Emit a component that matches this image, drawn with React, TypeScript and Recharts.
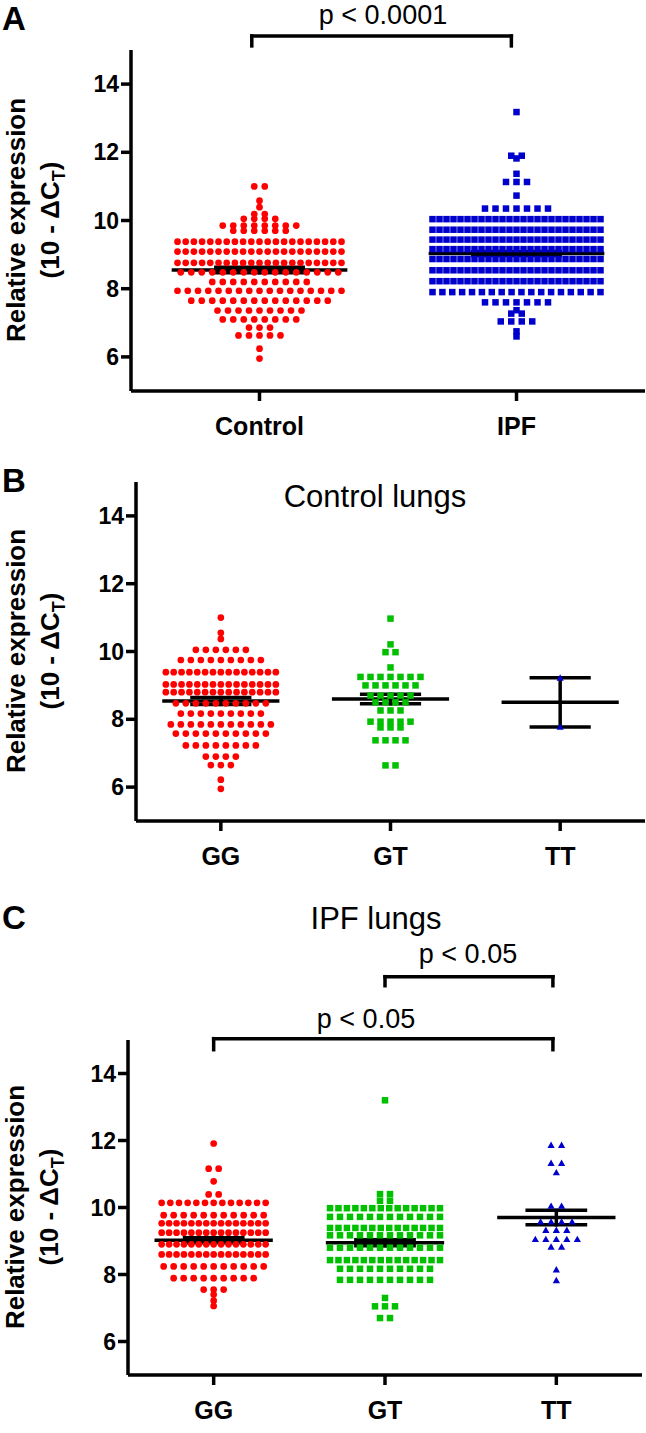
import { ScatterChart, Scatter, XAxis, YAxis, ReferenceLine } from "recharts";

document.body.style.margin = "0";

// each row of a swarm: [value, number of points at that value]
type Row = [number, number];

const aCategories = ["Control", "IPF"];
const genotypes = ["GG", "GT", "TT"];
const yTicks = [6, 8, 10, 12, 14];

const aControl: Row[] = [
  [11.0, 2], [10.58, 1], [10.39, 1], [10.19, 2], [10.05, 4], [9.85, 8], [9.7, 6],
  [9.38, 21], [9.09, 21], [8.76, 21], [8.48, 16], [8.2, 10], [7.94, 17], [7.65, 14],
  [7.36, 9], [7.1, 8], [6.86, 3], [6.63, 5], [6.24, 1], [5.95, 1],
];
const aIpf: Row[] = [
  [13.18, 1], [11.9, 2], [11.82, 1], [11.37, 1], [11.13, 3], [10.73, 1], [10.35, 7],
  [10.04, 25], [9.73, 25], [9.44, 25], [9.16, 25], [8.87, 25], [8.54, 25], [8.22, 25],
  [7.9, 18], [7.6, 7], [7.37, 1], [7.27, 2], [7.04, 4], [6.75, 1], [6.6, 1],
];
const aMeans = [8.55, 9.03];
const aSems = [0.08, 0.055];

const bGG: Row[] = [
  [11.0, 1], [10.55, 1], [10.37, 1], [10.05, 6], [9.75, 9], [9.39, 15], [9.03, 15],
  [8.8, 15], [8.47, 10], [8.17, 9], [7.85, 11], [7.58, 10], [7.23, 8], [6.9, 4],
  [6.65, 3], [6.22, 1], [5.95, 1],
];
const bGT: Row[] = [
  [10.97, 1], [10.21, 1], [9.98, 2], [9.53, 1], [9.25, 7], [9.0, 6], [8.7, 5], [8.5, 4],
  [8.26, 3], [7.93, 5], [7.76, 3], [7.38, 4], [6.64, 2],
];
const bTT: Row[] = [[9.22, 1], [7.77, 1]];
const bMeans = [8.54, 8.6, 8.5];
const bSems = [0.1, 0.14, 0.725];

const cGG: Row[] = [
  [11.91, 1], [11.16, 2], [10.78, 1], [10.39, 2], [10.14, 13], [9.77, 11], [9.53, 15],
  [9.25, 15], [8.9, 15], [8.6, 15], [8.24, 11], [7.89, 9], [7.55, 3], [7.4, 1],
  [7.22, 1], [7.06, 1],
];
const cGT: Row[] = [
  [13.2, 1], [10.4, 2], [10.2, 2], [9.98, 14], [9.72, 12], [9.39, 14], [9.17, 12],
  [8.8, 12], [8.43, 14], [8.17, 10], [7.84, 10], [7.3, 1], [7.05, 3], [6.7, 2],
];
const cTT: Row[] = [
  [11.86, 2], [11.32, 2], [11.04, 1], [10.04, 2], [9.57, 4], [9.32, 3], [9.05, 5],
  [8.82, 2], [8.14, 1], [7.82, 1],
];
const cMeans = [9.02, 8.95, 9.7];
const cSems = [0.075, 0.09, 0.215];

const W = 646;
const FONT = "'Liberation Sans', Arial, Helvetica, sans-serif";
const RED = "#ff0000";
const BLUE = "#0000cc";
const GREEN = "#00c000";
const SW = 3.5;

type Kind = "circle" | "square" | "triangle";

interface Group {
  rows: Row[];
  kind: Kind;
  color: string;
  halfWidth: number;
  gap: number;
}

interface Bracket {
  x1: number;
  x2: number;
  y: number;
  drop: number;
}

// spread every row around the category centre (pixel spacing turned into axis units)
function swarm(rows: Row[], center: number, pxPerUnit: number, halfWidth: number, maxGap: number) {
  const pts: { x: number; y: number }[] = [];
  rows.forEach(([v, n]) => {
    const gap = n > 1 ? Math.min(maxGap, (2 * halfWidth) / (n - 1)) : 0;
    for (let i = 0; i < n; i++) {
      pts.push({ x: center + ((i - (n - 1) / 2) * gap) / pxPerUnit, y: v });
    }
  });
  return pts;
}

const marker = (kind: Kind, color: string) => (p: any) => {
  const { cx, cy } = p;
  if (kind === "circle") return <circle cx={cx} cy={cy} r={3.35} fill={color} />;
  if (kind === "square")
    return <rect x={cx - 3.25} y={cy - 3.25} width={6.5} height={6.5} fill={color} />;
  return (
    <polygon
      points={`${cx},${cy - 3.7} ${cx + 3.6},${cy + 2.7} ${cx - 3.6},${cy + 2.7}`}
      fill={color}
    />
  );
};

const line = { stroke: "#000", strokeWidth: SW };

interface PanelProps {
  top: number;
  height: number;
  marginTop: number;
  marginRight: number;
  axisWidth: number;
  axisHeight: number;
  categories: string[];
  groups: Group[];
  means: number[];
  sems: number[];
  brackets: Bracket[];
}

function Panel(props: PanelProps) {
  const { top, height, marginTop, marginRight, axisWidth, axisHeight, categories, groups, means, sems, brackets } = props;
  const n = categories.length;
  const pxPerUnit = (W - axisWidth - marginRight) / n;

  const segs: { x1: number; y1: number; x2: number; y2: number }[] = [];
  means.forEach((m, i) => {
    const x = i + 1;
    const s = sems[i];
    segs.push({ x1: x - 0.335, y1: m, x2: x + 0.335, y2: m });
    segs.push({ x1: x - 0.17, y1: m + s, x2: x + 0.17, y2: m + s });
    segs.push({ x1: x - 0.17, y1: m - s, x2: x + 0.17, y2: m - s });
    segs.push({ x1: x, y1: m - s, x2: x, y2: m + s });
  });
  brackets.forEach((b) => {
    segs.push({ x1: b.x1, y1: b.y, x2: b.x2, y2: b.y });
    segs.push({ x1: b.x1, y1: b.y, x2: b.x1, y2: b.drop });
    segs.push({ x1: b.x2, y1: b.y, x2: b.x2, y2: b.drop });
  });

  return (
    <div style={{ position: "absolute", top, left: 0 }}>
      <ScatterChart
        width={W}
        height={height}
        margin={{ top: marginTop, right: marginRight, bottom: 0, left: 0 }}
      >
        <XAxis
          type="number"
          dataKey="x"
          domain={[0.5, n + 0.5]}
          ticks={categories.map((_, i) => i + 1)}
          tickFormatter={(v: number) => categories[v - 1]}
          interval={0}
          height={axisHeight}
          axisLine={line}
          tickLine={line}
          tickSize={10}
          tickMargin={16}
          tick={{ fill: "#000", fontSize: 25, fontWeight: "bold", fontFamily: FONT }}
        />
        <YAxis
          type="number"
          dataKey="y"
          domain={[5, 15]}
          ticks={yTicks}
          interval={0}
          width={axisWidth}
          axisLine={line}
          tickLine={line}
          tickSize={10}
          tickMargin={2}
          tick={{ fill: "#000", fontSize: 23, fontWeight: "bold", fontFamily: FONT }}
        />
        {groups.map((g, i) => (
          <Scatter
            key={i}
            data={swarm(g.rows, i + 1, pxPerUnit, g.halfWidth, g.gap)}
            shape={marker(g.kind, g.color)}
            isAnimationActive={false}
          />
        ))}
        {segs.map((s, i) => (
          <ReferenceLine
            key={"s" + i}
            segment={[{ x: s.x1, y: s.y1 }, { x: s.x2, y: s.y2 }]}
            stroke="#000"
            strokeWidth={SW}
            strokeLinecap="square"
            ifOverflow="visible"
          />
        ))}
      </ScatterChart>
    </div>
  );
}

function AxisTitle({ cx, cy }: { cx: number; cy: number }) {
  return (
    <g fontFamily={FONT} fontWeight="bold" fontSize={26} fill="#000" textAnchor="middle">
      <text x={cx} y={cy} transform={`rotate(-90 ${cx} ${cy})`}>
        Relative expression
      </text>
      <text x={cx + 34} y={cy} transform={`rotate(-90 ${cx + 34} ${cy})`}>
        (10 - ΔC
        <tspan fontSize={18} dy={6}>T</tspan>
        <tspan dy={-6}>)</tspan>
      </text>
    </g>
  );
}

export default function App() {
  return (
    <div style={{ position: "relative", width: W, height: 1433, background: "#fff" }}>
      <Panel
        top={0}
        height={445}
        marginTop={50}
        marginRight={1}
        axisWidth={131}
        axisHeight={54}
        categories={aCategories}
        groups={[
          { rows: aControl, kind: "circle", color: RED, halfWidth: 82, gap: 10.5 },
          { rows: aIpf, kind: "square", color: BLUE, halfWidth: 84, gap: 10.5 },
        ]}
        means={aMeans}
        sems={aSems}
        brackets={[{ x1: 0.97, x2: 1.98, y: 15.41, drop: 15.12 }]}
      />
      <Panel
        top={440}
        height={440}
        marginTop={42}
        marginRight={1}
        axisWidth={136}
        axisHeight={59}
        categories={genotypes}
        groups={[
          { rows: bGG, kind: "circle", color: RED, halfWidth: 55, gap: 10 },
          { rows: bGT, kind: "square", color: GREEN, halfWidth: 51, gap: 10 },
          { rows: bTT, kind: "triangle", color: BLUE, halfWidth: 0, gap: 10 },
        ]}
        means={bMeans}
        sems={bSems}
        brackets={[]}
      />
      <Panel
        top={880}
        height={553}
        marginTop={160}
        marginRight={4}
        axisWidth={128}
        axisHeight={58}
        categories={genotypes}
        groups={[
          { rows: cGG, kind: "circle", color: RED, halfWidth: 52, gap: 10 },
          { rows: cGT, kind: "square", color: GREEN, halfWidth: 55, gap: 10 },
          { rows: cTT, kind: "triangle", color: BLUE, halfWidth: 26, gap: 10.5 },
        ]}
        means={cMeans}
        sems={cSems}
        brackets={[
          { x1: 2.0, x2: 2.98, y: 16.89, drop: 16.62 },
          { x1: 1.0, x2: 2.98, y: 15.04, drop: 14.71 },
        ]}
      />
      <svg
        width={W}
        height={1433}
        style={{ position: "absolute", top: 0, left: 0, pointerEvents: "none" }}
      >
        <g fontFamily={FONT} fontWeight="bold" fontSize={33} fill="#000">
          <text x={2} y={30}>A</text>
          <text x={2} y={492}>B</text>
          <text x={2} y={929}>C</text>
        </g>
        <g fontFamily={FONT} fill="#000" textAnchor="middle">
          <text x={383} y={24} fontSize={27}>p &lt; 0.0001</text>
          <text x={375} y={507} fontSize={31}>Control lungs</text>
          <text x={376} y={929} fontSize={31}>IPF lungs</text>
          <text x={468} y={963} fontSize={27}>p &lt; 0.05</text>
          <text x={366} y={1028} fontSize={27}>p &lt; 0.05</text>
        </g>
        <AxisTitle cx={24.5} cy={220} />
        <AxisTitle cx={24.5} cy={651} />
        <AxisTitle cx={24} cy={1207} />
      </svg>
    </div>
  );
}
